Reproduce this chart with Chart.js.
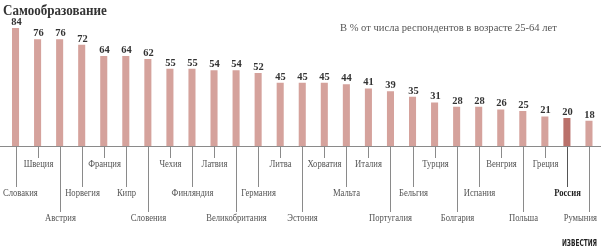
<!DOCTYPE html>
<html>
<head>
<meta charset="utf-8">
<script src="https://cdn.jsdelivr.net/npm/chart.js@4"></script>
<style>
  html, body { margin: 0; padding: 0; background: #fff; }
  #wrap { width: 601px; height: 249px; position: relative; }
</style>
</head>
<body>
<div id="wrap"><canvas id="grafico" width="601" height="249"></canvas></div>
<script>
// данные
var countries = ["Словакия", "Швеция", "Австрия", "Норвегия", "Франция", "Кипр", "Словения",
    "Чехия", "Финляндия", "Латвия", "Великобритания", "Германия", "Литва", "Эстония",
    "Хорватия", "Мальта", "Италия", "Португалия", "Бельгия", "Турция", "Болгария",
    "Испания", "Венгрия", "Польша", "Греция", "Россия", "Румыния"];
var values = [84, 76, 76, 72, 64, 64, 62, 55, 55, 54, 54, 52, 45, 45, 45, 44, 41, 39, 35, 31, 28, 28, 26, 25, 21, 20, 18];
var highlight = "Россия";

var title = "Самообразование";
var subtitle = "В % от числа респондентов в возрасте 25-64 лет";

// ряд подписи под осью (1, 2, 3)
var labelRow = [2, 1, 3, 2, 1, 2, 3, 1, 2, 1, 3, 2, 1, 3, 1, 2, 1, 3, 2, 1, 3, 2, 1, 3, 1, 2, 3];

var barColor = "#d5a29c";
var hiColor = "#ba716b";

var serif = "'Liberation Serif', 'DejaVu Serif', serif";

// текст со сжатием по ширине, не выходит за края
function drawText(ctx, text, x, y, sx, align) {
    var w = ctx.measureText(text).width * sx;
    var left;
    if (align === "center") left = x - w / 2;
    else if (align === "right") left = x - w;
    else left = x;
    if (left < 3) left = 3;
    if (left + w > 597) left = 597 - w;
    ctx.save();
    ctx.translate(left, y);
    ctx.scale(sx, 1);
    ctx.textAlign = "left";
    ctx.fillText(text, 0, 0);
    ctx.restore();
}

var textPlugin = {
    id: "textPlugin",
    afterDatasetsDraw: function (chart) {
        var ctx = chart.ctx;
        var xs = chart.scales.x;
        var ys = chart.scales.y;
        var base = ys.getPixelForValue(0);

        ctx.save();
        // ось
        ctx.strokeStyle = "#8a8a8a";
        ctx.lineWidth = 1;
        ctx.beginPath();
        ctx.moveTo(0, Math.round(base) + 0.5);
        ctx.lineTo(601, Math.round(base) + 0.5);
        ctx.stroke();

        var lineEnd = {1: 158, 2: 187, 3: 212};
        var textY = {1: 164, 2: 193, 3: 218};

        for (var i = 0; i < countries.length; i++) {
            var x = Math.round(xs.getPixelForValue(i)) + 0.5;
            var row = labelRow[i];

            ctx.strokeStyle = (countries[i] === highlight) ? "#555" : "#8a8a8a";
            ctx.beginPath();
            ctx.moveTo(x, Math.round(base) + 1);
            ctx.lineTo(x, lineEnd[row]);
            ctx.stroke();

            ctx.textBaseline = "middle";
            if (countries[i] === highlight) {
                ctx.font = "bold 10px " + serif;
                ctx.fillStyle = "#222";
            } else {
                ctx.font = "10px " + serif;
                ctx.fillStyle = "#555";
            }
            drawText(ctx, countries[i], x, textY[row], 0.86, "center");

            // значения над столбцами
            var top = ys.getPixelForValue(values[i]);
            ctx.font = "bold 11px " + serif;
            ctx.fillStyle = "#333";
            ctx.textBaseline = "alphabetic";
            drawText(ctx, String(values[i]), x, top - 3, 0.95, "center");
        }

        // заголовки
        ctx.textBaseline = "alphabetic";
        ctx.font = "bold 15px " + serif;
        ctx.fillStyle = "#333";
        drawText(ctx, title, 0, 15, 0.87, "left");

        ctx.font = "11px " + serif;
        ctx.fillStyle = "#555";
        drawText(ctx, subtitle, 340, 31, 0.96, "left");

        // логотип
        ctx.font = "bold 9px 'DejaVu Sans Condensed', sans-serif";
        ctx.fillStyle = "#222";
        drawText(ctx, "ИЗВЕСТИЯ", 597, 246, 0.72, "right");
        ctx.restore();
    }
};

new Chart(document.getElementById("grafico").getContext("2d"), {
    type: "bar",
    data: {
        labels: countries,
        datasets: [{
            data: values,
            backgroundColor: countries.map(function (c) { return c === highlight ? hiColor : barColor; }),
            borderWidth: 0,
            categoryPercentage: 1,
            barPercentage: 0.32
        }]
    },
    options: {
        responsive: false,
        animation: false,
        events: [],
        layout: { padding: { left: 4.5, right: 1, top: 5.5, bottom: 103 } },
        plugins: { legend: { display: false }, tooltip: { enabled: false } },
        scales: {
            x: { display: false },
            y: { display: false, min: 0, max: 100 }
        }
    },
    plugins: [textPlugin]
});
</script>
</body>
</html>
